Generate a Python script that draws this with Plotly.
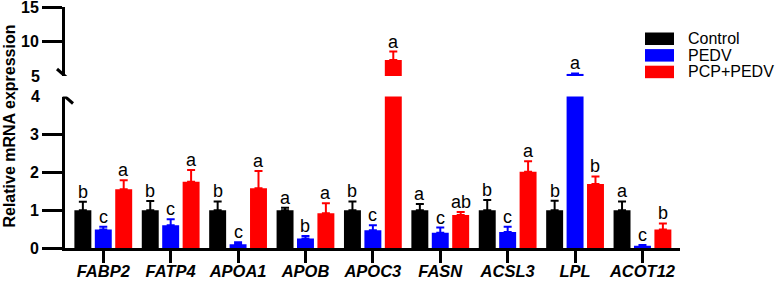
import plotly.graph_objects as go

genes = ["FABP2", "FATP4", "APOA1", "APOB", "APOC3", "FASN", "ACSL3", "LPL", "ACOT12"]
series_names = ["Control", "PEDV", "PCP+PEDV"]
control = [1.0, 1.0, 1.0, 1.0, 1.0, 1.0, 1.0, 1.0, 1.0]
control_err = [0.22, 0.24, 0.23, 0.06, 0.23, 0.16, 0.27, 0.25, 0.23]
pedv = [0.49, 0.60, 0.10, 0.25, 0.47, 0.40, 0.42, 5.3, 0.06]
pedv_err = [0.07, 0.16, 0.05, 0.07, 0.13, 0.14, 0.14, 0.08, 0.02]
pcp = [1.55, 1.75, 1.58, 0.92, 7.33, 0.87, 2.01, 1.69, 0.49]
pcp_err = [0.24, 0.31, 0.45, 0.26, 1.21, 0.08, 0.28, 0.20, 0.16]
control_letters = ["b", "b", "b", "a", "b", "a", "b", "b", "a"]
pedv_letters = ["c", "c", "c", "b", "c", "c", "c", "a", "c"]
pcp_letters = ["a", "a", "a", "a", "a", "ab", "a", "b", "b"]
colors = ["#000000", "#0000FF", "#FF0000"]
lower_ticks = [0, 1, 2, 3]
upper_ticks = [10, 15]
lower_range = [0, 4]
upper_range = [5, 15]

FONT = "Arial, Liberation Sans, sans-serif"
values = [control, pedv, pcp]
errors = [control_err, pedv_err, pcp_err]
letters = [control_letters, pedv_letters, pcp_letters]

fig = go.Figure()
for yax in ["y", "y2"]:
    for name, v, e, c in zip(series_names, values, errors, colors):
        fig.add_trace(go.Bar(
            x=genes, y=v, name=name, yaxis=yax, marker=dict(color=c, line=dict(width=0)),
            error_y=dict(type="data", array=e, arrayminus=[0] * len(e), symmetric=False,
                         color=c, thickness=2, width=4),
            showlegend=False, hoverinfo="skip",
        ))

# significance letters
annotations = []
for si, (v, e, lt) in enumerate(zip(values, errors, letters)):
    for gi, g in enumerate(genes):
        top = v[gi] + e[gi]
        yref = "y" if top <= lower_range[1] else "y2"
        annotations.append(dict(
            x=g, y=top, xref="x", yref=yref, text=lt[gi], showarrow=False,
            xanchor="center", yanchor="bottom", xshift=(si - 1) * 20.4, yshift=-2,
            font=dict(family=FONT, size=18, color="#000000"),
        ))

# labels for broken-axis ticks
annotations.append(dict(x=0, y=4, xref="paper", yref="y", text="4", showarrow=False,
                        xanchor="right", yanchor="middle", xshift=-23,
                        font=dict(family=FONT, size=16, color="#000000", weight="bold")))
annotations.append(dict(x=0, y=5, xref="paper", yref="y2", text="5", showarrow=False,
                        xanchor="right", yanchor="middle", xshift=-23,
                        font=dict(family=FONT, size=16, color="#000000", weight="bold")))
# y title
annotations.append(dict(x=0, y=0.504, xref="paper", yref="paper", text="Relative mRNA expression",
                        showarrow=False, textangle=-90, xanchor="center", yanchor="middle",
                        xshift=-55, font=dict(family=FONT, size=16, color="#000000", weight="bold")))

shapes = []
# break marks
for yref, yv in [("y", lower_range[1]), ("y2", upper_range[0])]:
    shapes.append(dict(type="line", xref="paper", yref=yref, xsizemode="pixel", ysizemode="pixel",
                       xanchor=0, yanchor=yv, x0=-8, x1=8, y0=7, y1=-7,
                       line=dict(color="#000000", width=3)))

# custom legend
plot_l, plot_r, plot_b, plot_t = 65, 680, 248, 7
W = plot_r - plot_l
H = plot_b - plot_t
def px_x(p):
    return (p - plot_l) / W
def px_y(p):
    return (plot_b - p) / H
for i, (name, c) in enumerate(zip(series_names, colors)):
    ytop = 32.5 + i * 16.6
    shapes.append(dict(type="rect", xref="paper", yref="paper",
                       x0=px_x(645), x1=px_x(674), y0=px_y(ytop), y1=px_y(ytop + 12.5),
                       fillcolor=c, line=dict(width=0)))
    annotations.append(dict(x=px_x(686), y=px_y(ytop + 6.25), xref="paper", yref="paper",
                            text=name, showarrow=False, xanchor="left", yanchor="middle",
                            font=dict(family=FONT, size=16, color="#000000")))

lower_top = px_y(96.5)
upper_bot = px_y(76)

fig.update_layout(
    width=777, height=281,
    margin=dict(l=plot_l, r=777 - plot_r, t=plot_t, b=281 - plot_b, autoexpand=False),
    paper_bgcolor="white", plot_bgcolor="white",
    barmode="group", bargap=0.091, bargroupgap=0.17,
    showlegend=False,
    font=dict(family=FONT, color="#000000"),
    xaxis=dict(type="category", range=[-0.568, 8.557], showline=True, linecolor="#000000",
               linewidth=3, ticks="outside", ticklen=12, tickwidth=3, tickcolor="#000000",
               tickfont=dict(family=FONT, size=16.5, color="#000000", weight="bold", style="italic"),
               ticklabelstandoff=-6,
               showgrid=False, zeroline=False, anchor="y", fixedrange=True, automargin=False),
    yaxis=dict(domain=[0, lower_top], range=lower_range, tickvals=lower_ticks, showline=True,
               linecolor="#000000", linewidth=3, ticks="outside", ticklen=20, tickwidth=3,
               tickcolor="#000000", tickfont=dict(family=FONT, size=16, color="#000000", weight="bold"),
               showgrid=False, zeroline=False, anchor="x", ticklabeloverflow="allow", automargin=False),
    yaxis2=dict(domain=[upper_bot, 1], range=upper_range, tickvals=upper_ticks, showline=True,
                linecolor="#000000", linewidth=3, ticks="outside", ticklen=20, tickwidth=3,
                tickcolor="#000000", tickfont=dict(family=FONT, size=16, color="#000000", weight="bold"),
                showgrid=False, zeroline=False, anchor="x", ticklabeloverflow="allow", automargin=False),
    annotations=annotations, shapes=shapes,
)

fig.write_html(
    "out.html",
    config={"displayModeBar": False},
    post_script="document.body.style.margin='0';document.body.style.overflow='hidden';",
)
